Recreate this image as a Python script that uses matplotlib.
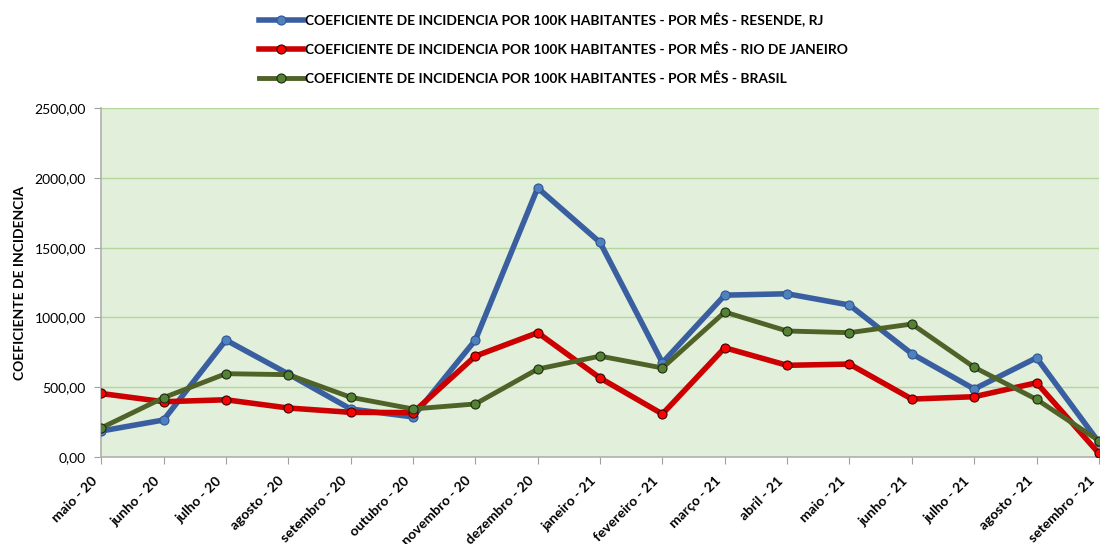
from matplotlib import pyplot as plt
from matplotlib.ticker import FuncFormatter
import matplotlib.transforms as mtransforms

meses = ['maio - 20', 'junho - 20', 'julho - 20', 'agosto - 20', 'setembro - 20',
         'outubro - 20', 'novembro - 20', 'dezembro - 20', 'janeiro - 21',
         'fevereiro - 21', 'março - 21', 'abril - 21', 'maio - 21', 'junho - 21',
         'julho - 21', 'agosto - 21', 'setembro - 21']

resende = [186, 265, 838, 595, 344, 287, 838, 1929, 1538, 676, 1160, 1170, 1089,
           740, 487, 711, 105]
rio = [455, 396, 410, 351, 320, 318, 723, 891, 566, 308, 783, 657, 666, 415, 432,
       532, 26]
brasil = [208, 425, 597, 590, 428, 344, 380, 630, 723, 638, 1039, 903, 891, 953,
          643, 413, 117]

prefixo = 'COEFICIENTE DE INCIDENCIA POR 100K HABITANTES - POR MÊS - '

plt.rcParams['font.family'] = ['Lato', 'DejaVu Sans']

fig = plt.figure(figsize=(11, 5.44), dpi=100)
ax = fig.add_axes([0.092, 0.160, 0.907, 0.641])
ax.set_facecolor('#E2EFDA')

x = list(range(len(meses)))
ax.plot(x, resende, '-o', color='#3A5FA0', linewidth=4, markersize=6.5,
        markerfacecolor='#4F81BD', markeredgecolor='#2F5597', markeredgewidth=0.8,
        label=prefixo + 'RESENDE, RJ', zorder=3)
ax.plot(x, rio, '-o', color='#CC0000', linewidth=4, markersize=6.5,
        markerfacecolor='#FF0000', markeredgecolor='#3A0000', markeredgewidth=0.8,
        label=prefixo + 'RIO DE JANEIRO', zorder=4)
ax.plot(x, brasil, '-o', color='#4F6228', linewidth=3.5, markersize=6.5,
        markerfacecolor='#548235', markeredgecolor='#1E2A10', markeredgewidth=0.8,
        label=prefixo + 'BRASIL', zorder=5)

ax.set_xlim(0, len(meses) - 1)
ax.set_ylim(0, 2500)
ax.set_yticks(range(0, 2501, 500))
ax.yaxis.set_major_formatter(FuncFormatter(lambda v, p: f'{v:.2f}'.replace('.', ',')))
ax.grid(axis='y', color='#B4D89C', linewidth=1)
ax.set_axisbelow(True)

ax.tick_params(axis='y', labelsize=10, colors='#000000', length=5, color='#A0A0A0',
               pad=6)
ax.tick_params(axis='x', length=5, color='#A0A0A0')

ax.set_xticks(x)
ax.set_xticklabels(meses, rotation=45, ha='right', va='center',
                   rotation_mode='anchor', fontweight='bold', fontsize=10)
# nudge labels so their end sits just left of / below the tick (after tick_params)
shift = mtransforms.ScaledTranslation(-0.06, -0.10, fig.dpi_scale_trans)
for lbl in ax.get_xticklabels():
    lbl.set_transform(lbl.get_transform() + shift)

for s in ['top', 'right']:
    ax.spines[s].set_visible(False)
for s in ['left', 'bottom']:
    ax.spines[s].set_color('#B0B0B0')
    ax.spines[s].set_linewidth(1.2)

ax.set_ylabel('COEFICIENTE DE INCIDENCIA', fontweight='bold', fontsize=10)
ax.yaxis.set_label_coords(-0.075, 0.5)

leg = fig.legend(loc='upper center', bbox_to_anchor=(0.503, 1.0), ncol=1,
                 frameon=False, prop={'weight': 'bold', 'size': 9.9},
                 handlelength=3.2, handletextpad=0.1, labelspacing=1.2)

fig.savefig('out.png', dpi=100)
